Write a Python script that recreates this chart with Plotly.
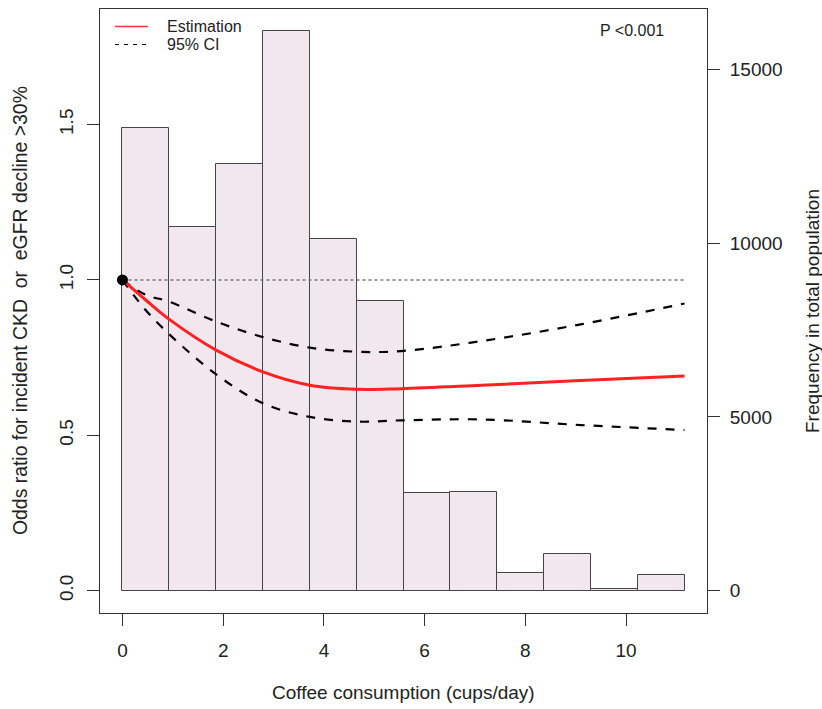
import plotly.graph_objects as go

# ---- data ----
bin_width = 0.93
freq = [13307, 10470, 12272, 16112, 10125, 8343, 2817, 2845, 506, 1043, 57, 440]

coffee = [0, 0.45, 0.93, 1.86, 2.79, 3.72, 4.65, 5.53, 7.12, 9.1, 11.16]
estimate = [1.0, 0.937, 0.873, 0.774, 0.704, 0.661, 0.648, 0.650, 0.661, 0.676, 0.691]
ci_upper = [1.0, 0.953, 0.930, 0.866, 0.816, 0.782, 0.769, 0.771, 0.803, 0.857, 0.924]
ci_lower = [1.0, 0.905, 0.825, 0.696, 0.603, 0.559, 0.544, 0.548, 0.551, 0.533, 0.517]

ref_x = [0, 11.16]
ref_y = [1, 1]

x_ticks = [0, 2, 4, 6, 8, 10]
y_ticks = [0.0, 0.5, 1.0, 1.5]
y_ticklabels = ["0.0", "0.5", "1.0", "1.5"]
freq_ticks = [0, 5000, 10000, 15000]
freq_ticklabels = ["0", "5000", "10000", "15000"]

bin_centers = [bin_width * (i + 0.5) for i in range(len(freq))]

FONT = "Liberation Sans, Arial, sans-serif"
AX = "#333333"

W, H = 822, 709
ML, MR, MT, MB = 100, 115, 9, 96
PW, PH = W - ML - MR, H - MT - MB


def px_x(x):  # window pixel -> paper x
    return (x - ML) / PW


def px_y(y):  # window pixel -> paper y
    return 1 - (y - MT) / PH


fig = go.Figure()

# histogram on the base (right) axis so lines draw above it
fig.add_trace(go.Bar(
    x=bin_centers, y=freq, width=bin_width, yaxis="y",
    marker=dict(color="#F2E6EF", line=dict(color="#454545", width=1)),
    showlegend=False, hoverinfo="skip",
))

fig.add_trace(go.Scatter(
    x=ref_x, y=ref_y, mode="lines", yaxis="y2",
    line=dict(color="#777777", width=1.5, dash="dot"),
    showlegend=False, hoverinfo="skip",
))
fig.add_trace(go.Scatter(
    x=coffee, y=ci_upper, mode="lines", name="95% CI", yaxis="y2",
    line=dict(color="black", width=2.2, dash="dash", shape="spline", smoothing=1.0),
    showlegend=False,
))
fig.add_trace(go.Scatter(
    x=coffee, y=ci_lower, mode="lines", name="95% CI", yaxis="y2",
    line=dict(color="black", width=2.2, dash="dash", shape="spline", smoothing=1.0),
    showlegend=False,
))
fig.add_trace(go.Scatter(
    x=coffee, y=estimate, mode="lines", name="Estimation", yaxis="y2",
    line=dict(color="#FF2222", width=3, shape="spline", smoothing=1.0),
    showlegend=False,
))
fig.add_trace(go.Scatter(
    x=[coffee[0]], y=[estimate[0]], mode="markers", yaxis="y2",
    marker=dict(color="black", size=11),
    showlegend=False,
))

# legend drawn R-style (line samples + labels)
shapes = [
    dict(type="line", xref="paper", yref="paper",
         x0=px_x(115), x1=px_x(148), y0=px_y(26.5), y1=px_y(26.5),
         line=dict(color="#FF3333", width=1.5)),
    dict(type="line", xref="paper", yref="paper",
         x0=px_x(115), x1=px_x(149), y0=px_y(44.5), y1=px_y(44.5),
         line=dict(color="black", width=1.2, dash="4px,5px")),
]

annotations = [
    dict(text="Estimation", xref="paper", yref="paper", x=px_x(165), y=px_y(26.5),
         xanchor="left", yanchor="middle", showarrow=False, font=dict(size=16)),
    dict(text="95% CI", xref="paper", yref="paper", x=px_x(165), y=px_y(44.5),
         xanchor="left", yanchor="middle", showarrow=False, font=dict(size=16)),
    dict(text="P <0.001", xref="paper", yref="paper", x=px_x(632), y=px_y(30),
         xanchor="center", yanchor="middle", showarrow=False, font=dict(size=16)),
    dict(text="Coffee consumption (cups/day)", xref="paper", yref="paper",
         x=px_x(403), y=px_y(692), xanchor="center", yanchor="middle",
         showarrow=False, font=dict(size=19)),
    dict(text="Odds ratio for incident CKD\u00a0 or\u00a0 eGFR decline >30%",
         xref="paper", yref="paper", x=px_x(20), y=px_y(311),
         xanchor="center", yanchor="middle", textangle=-90,
         showarrow=False, font=dict(size=19.4)),
    dict(text="Frequency in total population", xref="paper", yref="paper",
         x=px_x(812), y=px_y(311), xanchor="center", yanchor="middle",
         textangle=-90, showarrow=False, font=dict(size=19)),
]

fig.update_layout(
    width=W, height=H,
    margin=dict(l=ML, r=MR, t=MT, b=MB),
    paper_bgcolor="white", plot_bgcolor="white",
    font=dict(family=FONT, size=19, color="#222222"),
    bargap=0,
    showlegend=False,
    xaxis=dict(
        range=[-0.446, 11.606], tickvals=x_ticks, ticks="outside", ticklen=12,
        tickwidth=1, tickcolor=AX, showline=True, linecolor=AX, linewidth=1,
        mirror=True, showgrid=False, zeroline=False,
        tickfont=dict(size=19), ticklabelstandoff=8,
    ),
    yaxis=dict(
        range=[-644, 16744], tickvals=freq_ticks, ticktext=freq_ticklabels,
        side="right", ticks="outside", ticklen=12, tickwidth=1, tickcolor=AX,
        showline=False, showgrid=False, zeroline=False,
        tickfont=dict(size=19), ticklabelstandoff=6,
    ),
    yaxis2=dict(
        range=[-0.072, 1.872], tickvals=y_ticks, ticktext=y_ticklabels,
        overlaying="y", side="left",
        ticks="outside", ticklen=12, tickwidth=1, tickcolor=AX,
        showline=True, linecolor=AX, linewidth=1, mirror=True,
        showgrid=False, zeroline=False, tickangle=-90,
        tickfont=dict(size=19), ticklabelstandoff=6,
    ),
    shapes=shapes,
    annotations=annotations,
)

# remove the browser's default 8px page margin so the figure fills the window
fig.write_html("out.html", config={"displayModeBar": False},
               post_script="document.body.style.margin='0';")
